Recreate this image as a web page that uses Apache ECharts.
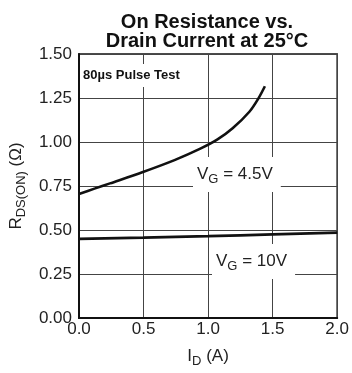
<!DOCTYPE html>
<html><head><meta charset="utf-8">
<script src="https://cdn.jsdelivr.net/npm/echarts@6/dist/echarts.min.js"></script>
<style>html,body{margin:0;padding:0;background:#fff}#c{width:352px;height:373px}</style>
</head><body><div id="c"></div>
<script>
const xTicks = [0, 0.5, 1.0, 1.5, 2.0];
const yTicks = [0, 0.25, 0.5, 0.75, 1.0, 1.25, 1.5];
const vg45X = [0.0, 0.12, 0.24, 0.49, 0.74, 0.94, 1.07, 1.19, 1.32, 1.39, 1.44];
const vg45Y = [0.705, 0.735, 0.765, 0.828, 0.897, 0.962, 1.013, 1.078, 1.172, 1.248, 1.317];
const vg10X = [0.0, 0.5, 1.0, 1.5, 2.0];
const vg10Y = [0.45, 0.457, 0.465, 0.475, 0.485];

const F = '"Liberation Sans", Arial, sans-serif';
const chart = echarts.init(document.getElementById('c'), null, {renderer: 'canvas'});
const gridC = '#444';
chart.setOption({
  animation: false,
  backgroundColor: '#fff',
  title: {
    text: 'On Resistance vs.\nDrain Current at 25°C',
    left: 202, top: 8, textAlign: 'center',
    textStyle: {fontFamily: F, fontWeight: 'bold', fontSize: 20, lineHeight: 19, color: '#111'}
  },
  grid: {left: 76, right: 12, top: 54, bottom: 54, show: true, borderColor: '#111', borderWidth: 1.5},
  xAxis: {
    type: 'value', min: 0, max: 2, interval: 0.5,
    axisLine: {show: true, lineStyle: {color: '#111', width: 2}},
    axisTick: {show: false},
    splitLine: {show: true, lineStyle: {color: gridC, width: 1}},
    axisLabel: {fontFamily: F, fontSize: 17, color: '#222', margin: 3, formatter: v => v.toFixed(1)},
    name: 'I{sub|D} (A)', nameLocation: 'middle', nameGap: 27,
    nameTextStyle: {fontFamily: F, fontSize: 17, color: '#222',
      rich: {sub: {fontFamily: F, fontSize: 13, color: '#222', padding: [10, 0, 0, 0]}}}
  },
  yAxis: {
    type: 'value', min: 0, max: 1.5, interval: 0.25,
    axisLine: {show: true, lineStyle: {color: '#111', width: 2}},
    axisTick: {show: false},
    splitLine: {show: true, lineStyle: {color: gridC, width: 1}},
    axisLabel: {fontFamily: F, fontSize: 17, color: '#222', margin: 7, formatter: v => v.toFixed(2)},
    name: 'R{sub|DS(ON)} (Ω)', nameLocation: 'middle', nameGap: 48, nameRotate: 90,
    nameTextStyle: {fontFamily: F, fontSize: 17, color: '#222',
      rich: {sub: {fontFamily: F, fontSize: 13, color: '#222', padding: [10, 0, 0, 0]}}}
  },
  series: [
    {type: 'line', data: vg45X.map((x, i) => [x, vg45Y[i]]), smooth: 0.3, showSymbol: false,
     lineStyle: {color: '#111', width: 2.6}, z: 3},
    {type: 'line', data: vg10X.map((x, i) => [x, vg10Y[i]]), smooth: true, showSymbol: false,
     lineStyle: {color: '#111', width: 2.8}, z: 3}
  ],
  graphic: [
    {type: 'text', left: 80, top: 64, z: 10,
     style: {text: '80µs Pulse Test', fontFamily: F, fontWeight: 'bold', fontSize: 13, fill: '#111',
       backgroundColor: '#fff', padding: [5, 4, 5, 3]}},
    {type: 'text', left: 193, top: 157, z: 10,
     style: {text: 'V{sub|G} = 4.5V', fontFamily: F, fontSize: 17, fill: '#222',
       backgroundColor: '#fff', padding: [6, 8, 6, 4],
       rich: {sub: {fontFamily: F, fontSize: 13, fill: '#222', padding: [10, 0, 0, 0]}}}},
    {type: 'text', left: 212, top: 244, z: 10,
     style: {text: 'V{sub|G} = 10V', fontFamily: F, fontSize: 17, fill: '#222',
       backgroundColor: '#fff', padding: [6, 8, 6, 4],
       rich: {sub: {fontFamily: F, fontSize: 13, fill: '#222', padding: [10, 0, 0, 0]}}}}
  ]
});
</script></body></html>
